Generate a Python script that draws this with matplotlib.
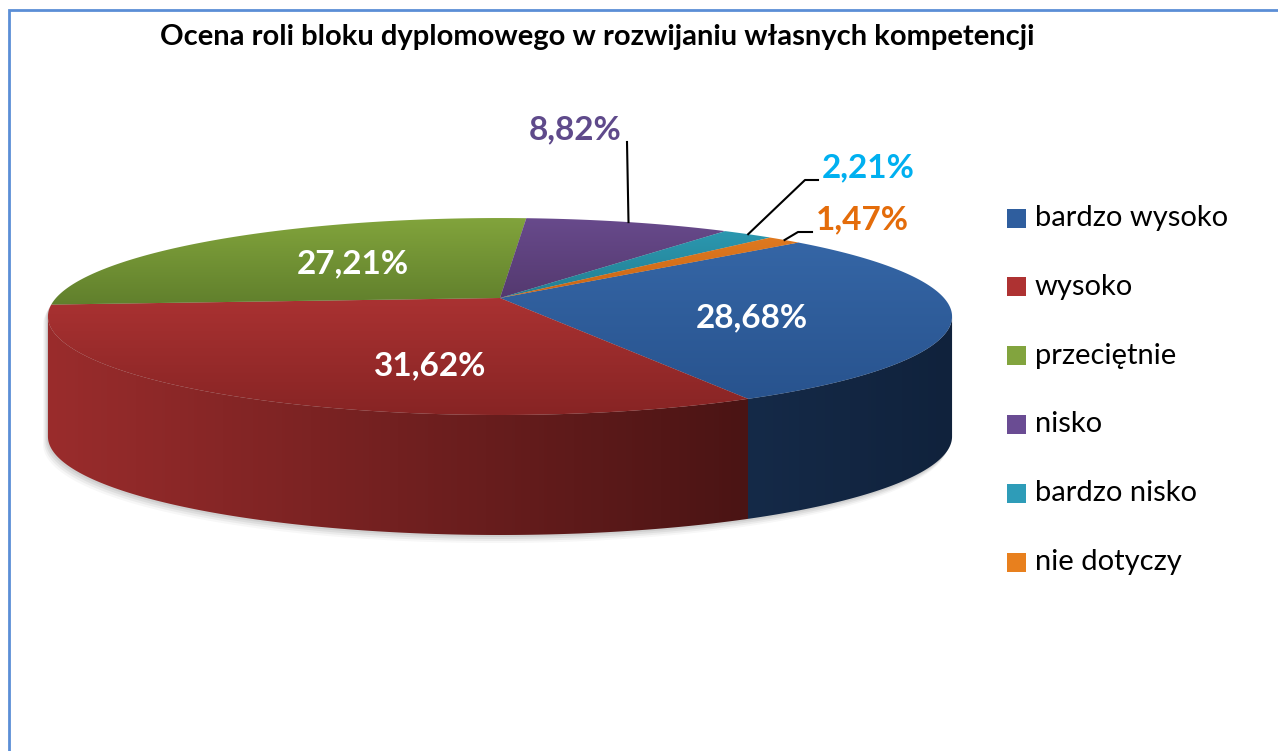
import numpy as np
import matplotlib.pyplot as plt
from matplotlib.patches import Polygon, Rectangle
from matplotlib.colors import to_rgb

plt.rcParams['font.family'] = ['Lato', 'DejaVu Sans']

# dane
labels = ["bardzo wysoko", "wysoko", "przeciętnie", "nisko", "bardzo nisko", "nie dotyczy"]
values = [28.68, 31.62, 27.21, 8.82, 2.21, 1.47]
value_texts = ["28,68%", "31,62%", "27,21%", "8,82%", "2,21%", "1,47%"]
legend_colors = ["#2F5E9E", "#AE3232", "#82A43E", "#6A4C93", "#2E9CB8", "#E8801E"]
top_light = ["#3566A6", "#AA3232", "#82A43C", "#684A8C", "#2B98B0", "#E07A20"]
top_dark = ["#28538E", "#872424", "#607F2C", "#54396F", "#237E92", "#C86414"]
side_light = ["#152A48", "#9A2C2C", "#5E7A28", "#4A3266", "#1E6F80", "#A85410"]
side_dark = ["#10223C", "#4A1414", "#3E521A", "#33224A", "#144E5A", "#703808"]
title = "Ocena roli bloku dyplomowego w rozwijaniu własnych kompetencji"

W, H = 1278, 751
fig = plt.figure(figsize=(W / 100, H / 100), dpi=100)
ax = fig.add_axes([0, 0, 1, 1])
ax.set_axis_off()

# geometria "3D" (rzut perspektywiczny okregu)
cx, cy = 500, 298
sx, sy = 444, 95
kp = 0.188
depth = 120
start = 41.0


def proj(t, dz=0.0):
    t = np.radians(t)
    X, Y = np.cos(t), np.sin(t)
    d = 1 + kp * Y
    return cx + sx * X / d, cy - sy * Y / d + dz


def arc(a0, a1, dz=0.0, n=None):
    if n is None:
        n = max(int(abs(a1 - a0) * 2), 2)
    tt = np.linspace(a0, a1, n)
    xs, ys = proj(tt, dz)
    return np.column_stack([xs, ys])


def grad_fill(verts, c1, c2, vertical=True, z=1):
    poly = Polygon(verts, closed=True, facecolor='none', edgecolor='none', zorder=z)
    ax.add_patch(poly)
    x0, y0 = verts.min(axis=0)
    x1, y1 = verts.max(axis=0)
    c1, c2 = np.array(to_rgb(c1)), np.array(to_rgb(c2))
    f = np.linspace(0, 1, 256)[:, None]
    g = c1 * (1 - f) + c2 * f
    if vertical:
        img = g[:, None, :]
    else:
        img = g[None, :, :]
    im = ax.imshow(img, extent=(x0 - 1, x1 + 1, y1 + 1, y0 - 1), aspect='auto',
                   interpolation='bilinear', zorder=z)
    im.set_clip_path(poly)


# katy wycinkow (zgodnie z ruchem wskazowek zegara)
angles = []
a = start
for v in values:
    b = a - v / 100 * 360
    angles.append((a, b))
    a = b

# cien
lim_r = -np.degrees(np.arcsin(kp))
lim_l = -180 - lim_r
sil = np.vstack([arc(lim_r, 180 - lim_r, 0), arc(lim_l, lim_r, depth)])
for i, off in enumerate([8, 6, 4, 2]):
    sh = sil + np.array([-off * 0.6, off])
    ax.add_patch(Polygon(sh, closed=True, facecolor='#999999', edgecolor='none',
                         alpha=0.08 + 0.04 * i, zorder=0.5))

# sciany boczne
for i, (a0, b0) in enumerate(angles):
    lo, hi = min(a0, b0), max(a0, b0)
    for shift in (0, -360, 360):
        l2, h2 = lo + shift, hi + shift
        s0, s1 = max(l2, lim_l), min(h2, lim_r)
        if s1 > s0:
            top = arc(s1, s0)
            bot = arc(s0, s1, depth)
            grad_fill(np.vstack([top, bot]), side_light[i], side_dark[i], vertical=False, z=1)

# wierzch
for i, (a0, b0) in enumerate(angles):
    pts = np.vstack([[cx, cy], arc(a0, b0)])
    grad_fill(pts, top_light[i], top_dark[i], vertical=True, z=2)

# etykiety wewnatrz
inside_pos = {0: (752, 318), 1: (430, 366), 2: (353, 264)}
for i, (x, y) in inside_pos.items():
    ax.text(x, y, value_texts[i], color='white', fontsize=24, fontweight='bold',
            ha='center', va='center', zorder=5)

# etykiety zewnetrzne z liniami
mid = [(a0 + b0) / 2 for a0, b0 in angles]
px, py = proj(mid[3])
ax.plot([px, 627], [py, 142], color='black', lw=1.5, zorder=4)
ax.text(575, 130, value_texts[3], color='#5F4A8B', fontsize=24, fontweight='bold',
        ha='center', va='center', zorder=5)
px, py = proj(mid[4])
ax.plot([px, 805, 818], [py, 180, 180], color='black', lw=1.5, zorder=4)
ax.text(868, 168, value_texts[4], color='#00B0F0', fontsize=24, fontweight='bold',
        ha='center', va='center', zorder=5)
px, py = proj(mid[5])
ax.plot([px, 798, 812], [py, 232, 232], color='black', lw=1.5, zorder=4)
ax.text(862, 220, value_texts[5], color='#E46C0A', fontsize=24, fontweight='bold',
        ha='center', va='center', zorder=5)

# legenda
for i, lab in enumerate(labels):
    y = 218 + i * 68.8
    ax.add_patch(Rectangle((1007, y - 9.5), 19, 19, facecolor=legend_colors[i],
                           edgecolor='none', zorder=5))
    ax.text(1035, y, lab, fontsize=21, ha='left', va='center', color='black', zorder=5)

# tytul
ax.text(597, 37, title, fontsize=21, fontweight='bold', ha='center', va='center')

# ramka
ax.plot([9, 9, W], [H, 10, 10], color='#5B8ED6', lw=2, solid_joinstyle='miter')

ax.set_xlim(0, W)
ax.set_ylim(H, 0)
fig.savefig('out.png', dpi=100)
